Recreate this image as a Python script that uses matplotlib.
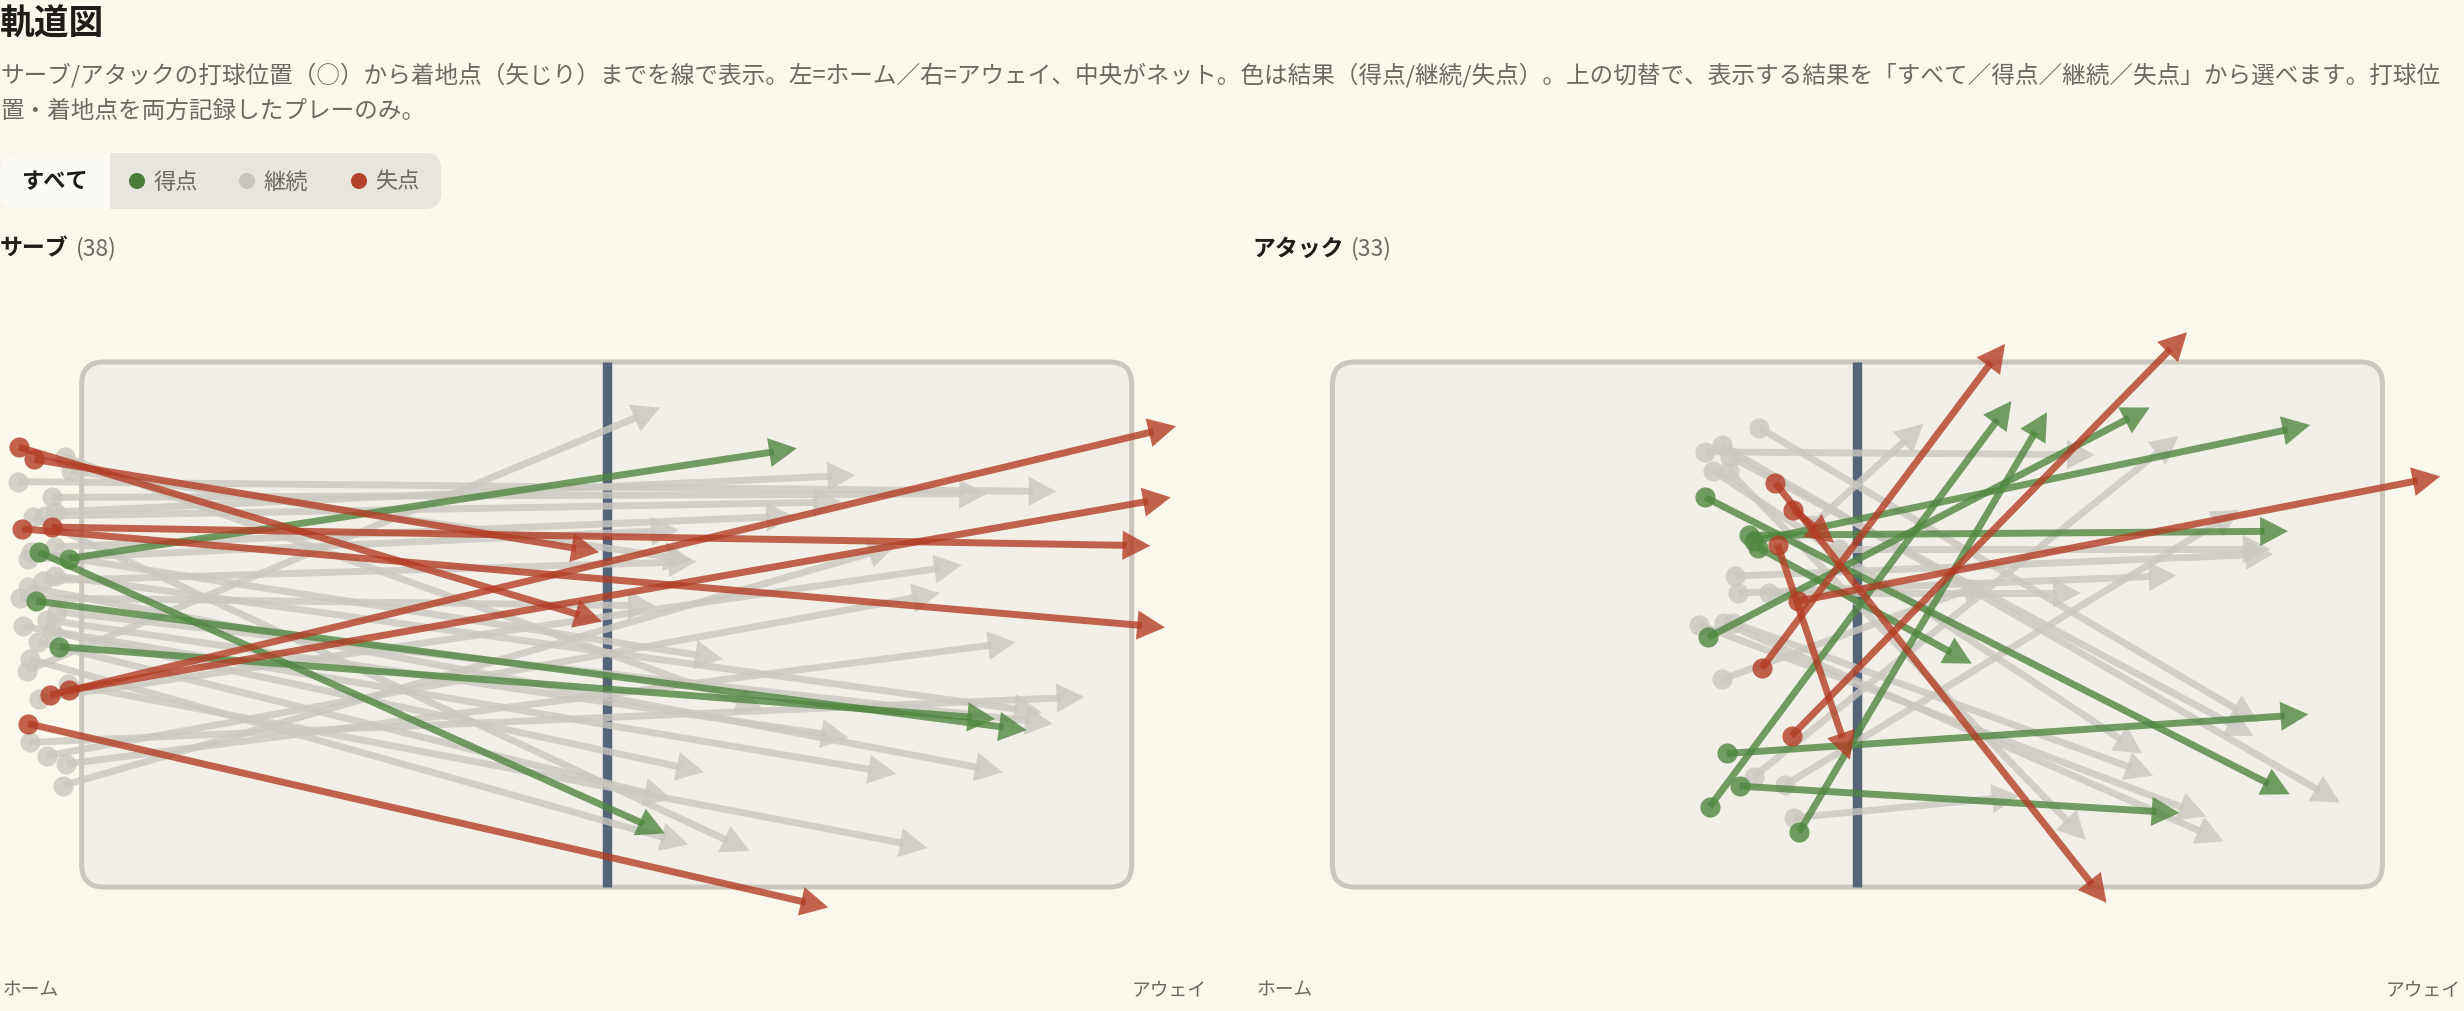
import numpy as np
import matplotlib.pyplot as plt
from matplotlib.patches import FancyBboxPatch, FancyArrowPatch, Rectangle, Circle

plt.rcParams['font.family'] = ['Noto Sans CJK JP', 'DejaVu Sans']

# ---- data (court metres: x 0..18 with net at 9, y 0..9 top->bottom) ----
# serves (38): 7 lost, 4 won, 27 continued
serve_x0 = [-1.08, -0.81, -1.02, -0.51, -0.54, -0.22, -0.92,
            -0.22, -0.73, -0.78, -0.38,
            -0.29, -1.09, -0.51, -0.46, -0.63, -0.83, -0.46, -0.92, -0.46, -0.66,
            -0.92, -1.06, -0.43, -1.00, -0.51, -0.74, -0.89, -0.94, -0.23, -0.89,
            -0.60, -0.26, -0.32, -0.86, -0.59, -0.73, -0.19]
serve_y0 = [1.46, 1.67, 2.86, 2.83, 5.71, 5.63, 6.20,
            3.37, 3.26, 4.10, 4.88,
            1.63, 2.05, 2.32, 2.57, 2.64, 2.66, 3.17, 3.38, 3.66, 3.75,
            3.86, 4.04, 4.28, 4.52, 4.61, 4.80, 5.09, 5.29, 5.52, 6.52,
            6.75, 6.89, 7.26, 3.26, 4.42, 5.77, 1.86]
serve_x1 = [8.92, 8.87, 18.57, 18.32, 18.76, 18.67, 12.80,
            12.26, 10.00, 16.20, 15.66,
            11.69, 16.71, 15.52, 13.26, 13.02, 11.45, 12.21, 10.24, 16.46, 10.54,
            15.79, 9.84, 16.65, 10.67, 13.96, 10.11, 10.40, 9.92, 14.50, 17.19,
            14.71, 16.01, 13.96, 10.99, 13.15, 15.09, 10.46]
serve_y1 = [4.45, 3.26, 4.55, 3.15, 1.10, 2.32, 9.35,
            1.48, 8.08, 6.31, 6.12,
            5.96, 2.22, 2.26, 1.94, 2.40, 8.38, 2.64, 2.88, 6.01, 3.42,
            7.03, 4.18, 6.20, 7.03, 7.06, 7.49, 8.27, 0.78, 8.33, 5.74,
            3.96, 4.80, 3.15, 5.09, 6.44, 3.48, 3.40]
serve_res = ['失点'] * 7 + ['得点'] * 4 + ['継続'] * 27

# attacks (33): 6 lost, 9 won, 18 continued
attack_x0 = [7.59, 7.90, 7.63, 7.36, 7.87, 7.98,
             6.39, 7.14, 7.22, 7.30, 6.44, 6.76, 6.98, 6.47, 8.00,
             7.32, 6.67, 6.39, 6.82, 8.22, 8.68, 6.90, 6.95, 7.49, 6.28,
             6.71, 6.87, 6.68, 7.22, 7.76, 7.92, 6.79, 6.52]
attack_y0 = [2.07, 2.53, 3.13, 5.25, 6.41, 4.10,
             2.32, 2.97, 3.07, 3.18, 4.72, 6.71, 7.27, 7.62, 8.06,
             1.13, 1.43, 1.54, 1.62, 2.80, 3.21, 3.67, 3.96, 3.96, 4.50,
             4.47, 4.47, 5.44, 7.11, 7.25, 7.81, 1.86, 1.86]
attack_x1 = [13.27, 8.60, 8.87, 11.53, 14.65, 18.99,
             16.41, 16.38, 16.76, 10.96, 14.01, 16.73, 14.52, 11.64, 12.25,
             15.87, 17.27, 13.07, 15.79, 10.13, 16.08, 16.13, 14.47, 12.83, 14.98,
             15.28, 14.07, 11.26, 14.50, 15.55, 11.78, 12.91, 13.88]
attack_y1 = [9.27, 3.10, 6.82, -0.31, -0.51, 1.96,
             7.41, 2.90, 1.08, 5.17, 0.78, 6.04, 7.73, 0.67, 0.86,
             6.17, 7.55, 1.59, 6.41, 1.06, 3.21, 3.29, 3.66, 3.96, 7.79,
             8.22, 7.09, 3.77, 1.27, 2.53, 7.44, 8.19, 6.71]
attack_res = ['失点'] * 6 + ['得点'] * 9 + ['継続'] * 18

results = ['得点', '継続', '失点']
colors = {'得点': '#4f8741', '継続': '#cbc8c0', '失点': '#b33d24'}
legend_dots = {'得点': '#4a7c3a', '継続': '#c8c5be', '失点': '#b5432c'}

BG = '#faf7ed'
COURT = '#f2efe8'
EDGE = '#cbc7be'
NET = '#56647a'
DARK = '#1f1d1a'
MUTED = '#6e6a62'

W, H = 2464, 1012
fig = plt.figure(figsize=(W / 100, H / 100), dpi=100)
fig.patch.set_facecolor(BG)

# overlay axes in pixel coords for header texts / toggle
ui = fig.add_axes([0, 0, 1, 1])
ui.set_xlim(0, W)
ui.set_ylim(H, 0)
ui.axis('off')

ui.text(0, 24, '軌道図', fontsize=25, fontweight='bold', color=DARK, va='center', ha='left')
ui.text(0, 75, 'サーブ/アタックの打球位置（○）から着地点（矢じり）までを線で表示。左=ホーム／右=アウェイ、中央がネット。'
        '色は結果（得点/継続/失点）。上の切替で、表示する結果を「すべて／得点／継続／失点」から選べます。打球位',
        fontsize=17, color=MUTED, va='center', ha='left')
ui.text(0, 111, '置・着地点を両方記録したプレーのみ。', fontsize=17, color=MUTED, va='center', ha='left')

# toggle
ui.add_patch(FancyBboxPatch((0, 154), 441, 56, boxstyle='round,pad=0,rounding_size=16',
                            fc='#e8e5df', ec='none'))
ui.add_patch(FancyBboxPatch((0, 154), 110, 56, boxstyle='round,pad=0,rounding_size=16',
                            fc='#fcfaf4', ec='none'))
ui.add_patch(Rectangle((70, 154), 40, 56, fc='#fcfaf4', ec='none'))
ui.text(54, 182, 'すべて', fontsize=16, fontweight='bold', color=DARK, ha='center', va='center')
for res, dx, tx in zip(results, [137, 247, 359], [153, 263, 375]):
    ui.add_patch(Circle((dx, 182), 8, fc=legend_dots[res], ec='none'))
    ui.text(tx, 182, res, fontsize=16, color=MUTED, ha='left', va='center')

# panel headings
ui.text(0, 249, 'サーブ', fontsize=16.5, fontweight='bold', color=DARK, va='center')
ui.text(76, 249, f'({len(serve_res)})', fontsize=16.5, color=MUTED, va='center')
ui.text(1252, 249, 'アタック', fontsize=16.5, fontweight='bold', color=DARK, va='center')
ui.text(1351, 249, f'({len(attack_res)})', fontsize=16.5, color=MUTED, va='center')

# side labels
for left, right in [(3, 1207), (1257, 2461)]:
    ui.text(left, 990, 'ホーム', fontsize=13.5, color=MUTED, ha='left', va='center')
    ui.text(right, 990, 'アウェイ', fontsize=13.5, color=MUTED, ha='right', va='center')


def draw_panel(ax, x0, y0, x1, y1, res):
    ax.set_xlim(-1.40, 19.29)
    ax.set_ylim(9.94, -0.97)
    ax.axis('off')
    ax.patch.set_alpha(0)
    ax.add_patch(FancyBboxPatch((0, 0), 18, 9, boxstyle='round,pad=0,rounding_size=0.38',
                                fc=COURT, ec=EDGE, lw=3.6, zorder=1))
    ax.plot([9, 9], [0, 9], color=NET, lw=6.8, solid_capstyle='butt', zorder=2)
    x0, y0, x1, y1 = map(np.asarray, (x0, y0, x1, y1))
    res = np.asarray(res)
    z = 3
    for key in ['継続', '得点', '失点']:
        c = colors[key]
        for i in np.where(res == key)[0]:
            dx, dy = x1[i] - x0[i], y1[i] - y0[i]
            L = np.hypot(dx, dy)
            cut = min(0.4, L * 0.5)
            xe, ye = x1[i] - dx / L * cut, y1[i] - dy / L * cut
            ax.plot([x0[i], xe], [y0[i], ye], color=c, lw=5, alpha=0.8,
                    solid_capstyle='butt', zorder=z)
            ax.add_patch(FancyArrowPatch((x0[i], y0[i]), (x1[i], y1[i]),
                                         arrowstyle='-|>,head_length=20,head_width=10.5',
                                         mutation_scale=1, lw=0, color=c, alpha=0.8,
                                         shrinkA=0, shrinkB=0, zorder=z))
            ax.plot(x0[i], y0[i], 'o', ms=14.5, color=c, mec='none', alpha=0.8, zorder=z)
            z += 0.01


ax1 = fig.add_axes([0 / W, 1 - 942.9 / H, 1206.9 / W, 636.5 / H])
draw_panel(ax1, serve_x0, serve_y0, serve_x1, serve_y1, serve_res)
ax2 = fig.add_axes([1250.8 / W, 1 - 942.9 / H, 1206.9 / W, 636.5 / H])
draw_panel(ax2, attack_x0, attack_y0, attack_x1, attack_y1, attack_res)

fig.savefig('out.png', dpi=100, facecolor=BG)
